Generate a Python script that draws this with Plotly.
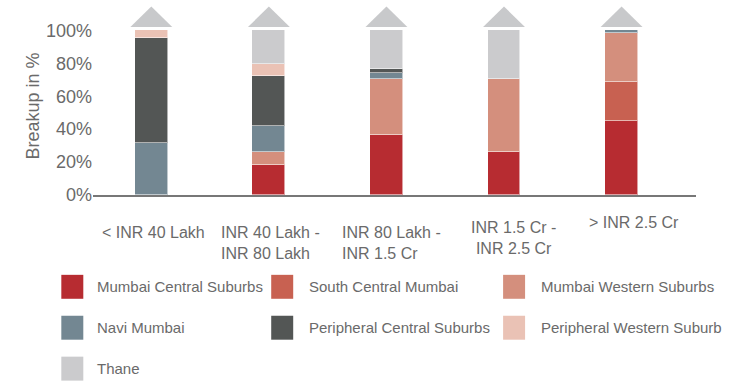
import plotly.graph_objects as go

# ---------------- data ----------------
categories = ["< INR 40 Lakh", "INR 40 Lakh -<br>INR 80 Lakh", "INR 80 Lakh -<br>INR 1.5 Cr",
              "INR 1.5 Cr -<br>INR 2.5 Cr", "> INR 2.5 Cr"]
series_names = ["Mumbai Central Suburbs", "South Central Mumbai", "Mumbai Western Suburbs",
                "Navi Mumbai", "Peripheral Central Suburbs", "Peripheral Western Suburb", "Thane"]
mumbai_central = [0, 18.4, 36.5, 26.1, 44.8]
south_central = [0, 0, 0, 0, 24.1]
mumbai_western = [0, 7.7, 33.8, 44.2, 29.7]
navi_mumbai = [31.3, 16.1, 3.6, 0, 1.4]
peripheral_central = [63.9, 29.9, 2.5, 0, 0]
peripheral_western = [4.8, 7.7, 0, 0, 0]
thane = [0, 20.2, 23.6, 29.7, 0]
series_values = [mumbai_central, south_central, mumbai_western, navi_mumbai,
                 peripheral_central, peripheral_western, thane]
colors = ["#B72C31", "#C86151", "#D48F7D", "#738792", "#535655", "#EAC2B5", "#CBCBCD"]
y_ticks = [0, 20, 40, 60, 80, 100]
y_tick_labels = ["0%", "20%", "40%", "60%", "80%", "100%"]

# ---------------- layout geometry (pixels) ----------------
W, H = 743, 385
L, R, T, B = 92.7, 696, 3.6, 195
FONT = "Liberation Sans, Arial, sans-serif"
TXT = "#6a6a6a"

def px2x(px):
    return (px - L) / (R - L)

def py2y(py):
    return (B - py) / (B - T)

fig = go.Figure()
xs = list(range(len(categories)))
for name, vals, col in zip(series_names, series_values, colors):
    fig.add_trace(go.Bar(x=xs, y=vals, name=name, width=0.28,
                         marker=dict(color=col, line=dict(color="rgba(255,255,255,0.55)", width=1)),
                         showlegend=False, hoverinfo="name+y"))

# arrow heads above each bar
hw, base, apex = 0.178, 102, 114.5
for i in xs:
    fig.add_trace(go.Scatter(x=[i - hw, i + hw, i, i - hw], y=[base, base, apex, base],
                             mode="lines", fill="toself", fillcolor="#C8C9CB",
                             line=dict(width=0, color="#C8C9CB"), showlegend=False, hoverinfo="skip"))

annotations = []
# category labels (custom positions as in reference)
label_pos = [(100, 222), (219, 222), (340, 222), (469, 217), (587, 212)]
label_align = ["left", "left", "left", "center", "left"]
for text, (lx, ly), al in zip(categories, label_pos, label_align):
    annotations.append(dict(text=text, xref="paper", yref="paper", x=px2x(lx), y=py2y(ly),
                            xanchor="left", yanchor="top", showarrow=False, align=al,
                            font=dict(family=FONT, size=16, color=TXT)))

# y-axis title
annotations.append(dict(text="Breakup in %", xref="paper", yref="paper", x=px2x(33), y=py2y(106),
                        xanchor="center", yanchor="middle", textangle=-90, showarrow=False,
                        font=dict(family=FONT, size=18, color=TXT)))

# custom legend
shapes = []
col_sq = [61, 271, 503]
col_tx = [95, 307, 539]
row_cy = [287, 328, 369]
for k, (name, col) in enumerate(zip(series_names, colors)):
    r, c = divmod(k, 3)
    cy = row_cy[r]
    shapes.append(dict(type="rect", xref="paper", yref="paper",
                       x0=px2x(col_sq[c]), x1=px2x(col_sq[c] + 22),
                       y0=py2y(cy - 12), y1=py2y(cy + 12),
                       fillcolor=col, line=dict(width=0)))
    annotations.append(dict(text=name, xref="paper", yref="paper", x=px2x(col_tx[c]), y=py2y(cy),
                            xanchor="left", yanchor="middle", showarrow=False,
                            font=dict(family=FONT, size=15, color=TXT)))

fig.update_layout(
    width=W, height=H, barmode="stack",
    margin=dict(l=L, r=W - R, t=T, b=H - B, autoexpand=False),
    paper_bgcolor="white", plot_bgcolor="white",
    xaxis=dict(range=[-0.496, 4.633], showticklabels=False, showgrid=False, zeroline=False,
               showline=True, linecolor="#777777", linewidth=1.5, ticks=""),
    yaxis=dict(range=[0, 116], tickvals=y_ticks, ticktext=y_tick_labels, showgrid=False,
               zeroline=False, showline=False, ticks="",
               tickfont=dict(family=FONT, size=18, color=TXT)),
    annotations=annotations, shapes=shapes, bargap=0,
)
fig.write_html("out.html")
